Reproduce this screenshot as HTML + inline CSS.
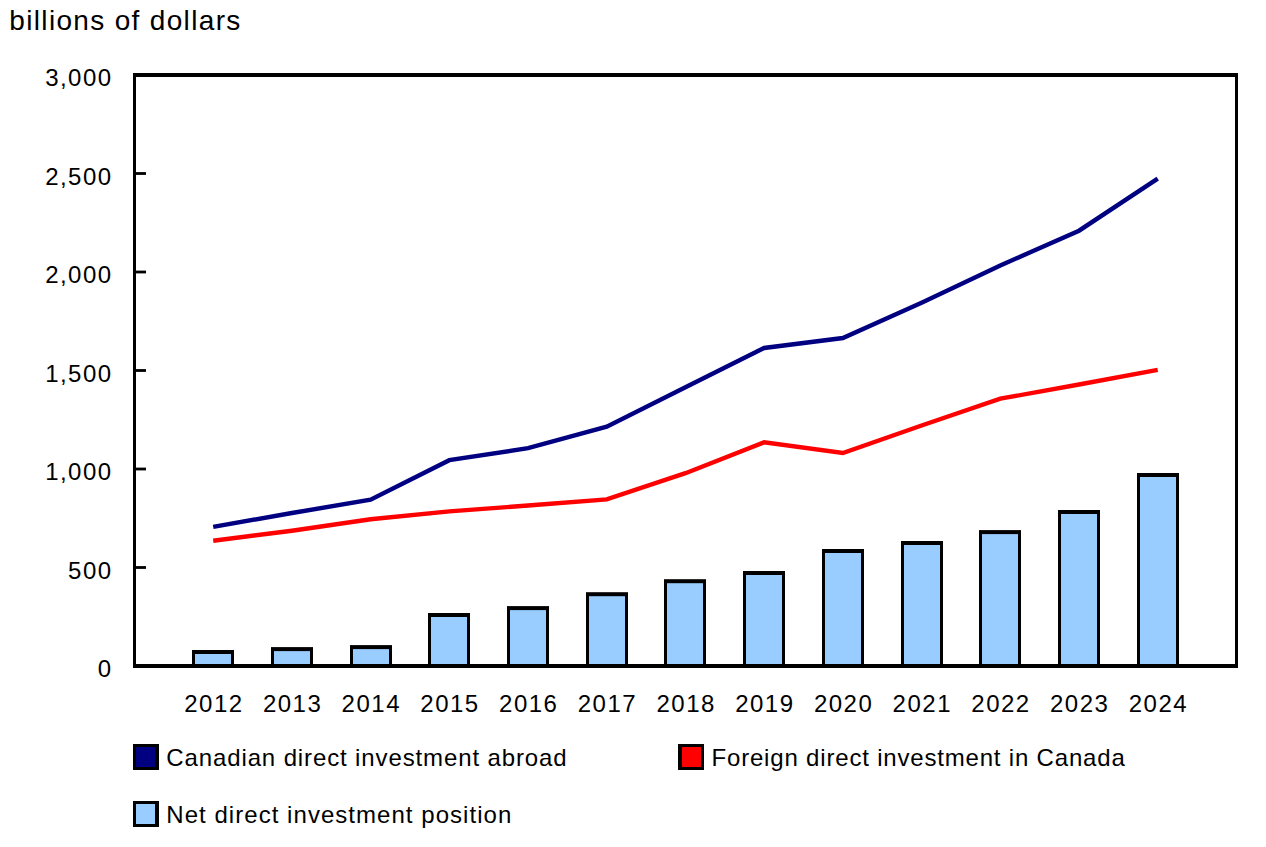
<!DOCTYPE html><html><head><meta charset="utf-8"><style>html,body{margin:0;padding:0;background:#fff;}svg{display:block;}text{font-family:"Liberation Sans",sans-serif;fill:#000;}</style></head><body>
<svg width="1266" height="847" viewBox="0 0 1266 847">
<rect x="0" y="0" width="1266" height="847" fill="#fff"/>
<text x="9.3" y="30" font-size="28" textLength="231" lengthAdjust="spacing">billions of dollars</text>
<text x="112.5" y="676.7" font-size="24" text-anchor="end" letter-spacing="1.45">0</text>
<text x="112.5" y="578.9" font-size="24" text-anchor="end" letter-spacing="1.45">500</text>
<text x="112.5" y="479.7" font-size="24" text-anchor="end" letter-spacing="1.45">1,000</text>
<text x="112.5" y="381.7" font-size="24" text-anchor="end" letter-spacing="1.45">1,500</text>
<text x="112.5" y="283.4" font-size="24" text-anchor="end" letter-spacing="1.45">2,000</text>
<text x="112.5" y="184.7" font-size="24" text-anchor="end" letter-spacing="1.45">2,500</text>
<text x="112.5" y="85.7" font-size="24" text-anchor="end" letter-spacing="1.45">3,000</text>
<rect x="192.00" y="650" width="42" height="16.00" fill="#000"/>
<rect x="195.00" y="654" width="36" height="12.00" fill="#99ccff"/>
<rect x="271.00" y="647.1" width="42" height="18.90" fill="#000"/>
<rect x="274.00" y="651.1" width="36" height="14.90" fill="#99ccff"/>
<rect x="350.00" y="645.1" width="42" height="20.90" fill="#000"/>
<rect x="353.00" y="649.1" width="36" height="16.90" fill="#99ccff"/>
<rect x="428.00" y="613" width="42" height="53.00" fill="#000"/>
<rect x="431.00" y="617" width="36" height="49.00" fill="#99ccff"/>
<rect x="507.00" y="606.1" width="42" height="59.90" fill="#000"/>
<rect x="510.00" y="610.1" width="36" height="55.90" fill="#99ccff"/>
<rect x="586.00" y="592.2" width="42" height="73.80" fill="#000"/>
<rect x="589.00" y="596.2" width="36" height="69.80" fill="#99ccff"/>
<rect x="664.00" y="579.2" width="42" height="86.80" fill="#000"/>
<rect x="667.00" y="583.2" width="36" height="82.80" fill="#99ccff"/>
<rect x="743.00" y="571" width="42" height="95.00" fill="#000"/>
<rect x="746.00" y="575" width="36" height="91.00" fill="#99ccff"/>
<rect x="822.00" y="549" width="42" height="117.00" fill="#000"/>
<rect x="825.00" y="553" width="36" height="113.00" fill="#99ccff"/>
<rect x="901.00" y="541" width="42" height="125.00" fill="#000"/>
<rect x="904.00" y="545" width="36" height="121.00" fill="#99ccff"/>
<rect x="979.00" y="530.1" width="42" height="135.90" fill="#000"/>
<rect x="982.00" y="534.1" width="36" height="131.90" fill="#99ccff"/>
<rect x="1058.00" y="510" width="42" height="156.00" fill="#000"/>
<rect x="1061.00" y="514" width="36" height="152.00" fill="#99ccff"/>
<rect x="1137.00" y="473" width="42" height="193.00" fill="#000"/>
<rect x="1140.00" y="477" width="36" height="189.00" fill="#99ccff"/>
<rect x="133" y="73" width="3" height="595" fill="#000"/>
<rect x="1235" y="73" width="3" height="595" fill="#000"/>
<rect x="133" y="73" width="1105" height="4" fill="#000"/>
<rect x="133" y="664" width="1105" height="4" fill="#000"/>
<rect x="136" y="566.10" width="10" height="2.8" fill="#000"/>
<rect x="136" y="467.60" width="10" height="2.8" fill="#000"/>
<rect x="136" y="369.10" width="10" height="2.8" fill="#000"/>
<rect x="136" y="270.60" width="10" height="2.8" fill="#000"/>
<rect x="136" y="172.10" width="10" height="2.8" fill="#000"/>
<polyline points="213.20,540.8 291.91,530.7 370.62,519.2 449.33,511.4 528.04,505.5 606.75,499.4 685.46,473.2 764.17,442.3 842.88,453 921.59,425.5 1000.30,398.7 1079.01,384.5 1157.72,369.8" fill="none" stroke="#ff0000" stroke-width="4.4" stroke-linejoin="miter" stroke-linecap="butt"/>
<polyline points="213.20,526.9 291.91,513 370.62,499.7 449.33,460.2 528.04,448.2 606.75,426.6 685.46,387.3 764.17,348 842.88,338 921.59,302.8 1000.30,265.5 1079.01,230.7 1157.72,178.6" fill="none" stroke="#000080" stroke-width="4.4" stroke-linejoin="miter" stroke-linecap="butt"/>
<text x="213.90" y="712" font-size="24" text-anchor="middle" letter-spacing="1.5">2012</text>
<text x="292.61" y="712" font-size="24" text-anchor="middle" letter-spacing="1.5">2013</text>
<text x="371.32" y="712" font-size="24" text-anchor="middle" letter-spacing="1.5">2014</text>
<text x="450.03" y="712" font-size="24" text-anchor="middle" letter-spacing="1.5">2015</text>
<text x="528.74" y="712" font-size="24" text-anchor="middle" letter-spacing="1.5">2016</text>
<text x="607.45" y="712" font-size="24" text-anchor="middle" letter-spacing="1.5">2017</text>
<text x="686.16" y="712" font-size="24" text-anchor="middle" letter-spacing="1.5">2018</text>
<text x="764.87" y="712" font-size="24" text-anchor="middle" letter-spacing="1.5">2019</text>
<text x="843.58" y="712" font-size="24" text-anchor="middle" letter-spacing="1.5">2020</text>
<text x="922.29" y="712" font-size="24" text-anchor="middle" letter-spacing="1.5">2021</text>
<text x="1001.00" y="712" font-size="24" text-anchor="middle" letter-spacing="1.5">2022</text>
<text x="1079.71" y="712" font-size="24" text-anchor="middle" letter-spacing="1.5">2023</text>
<text x="1158.42" y="712" font-size="24" text-anchor="middle" letter-spacing="1.5">2024</text>
<rect x="133" y="744" width="26" height="26" fill="#000"/>
<rect x="136" y="747" width="19" height="20" fill="#000080"/>
<text x="166.3" y="766" font-size="24" textLength="400.3" lengthAdjust="spacing">Canadian direct investment abroad</text>
<rect x="678" y="744" width="26" height="26" fill="#000"/>
<rect x="682" y="747" width="19" height="20" fill="#ff0000"/>
<text x="711.5" y="766" font-size="24" textLength="413.3" lengthAdjust="spacing">Foreign direct investment in Canada</text>
<rect x="133" y="801" width="26" height="26" fill="#000"/>
<rect x="136" y="804" width="19" height="20" fill="#99ccff"/>
<text x="166.3" y="823" font-size="24" textLength="345" lengthAdjust="spacing">Net direct investment position</text>
</svg></body></html>
